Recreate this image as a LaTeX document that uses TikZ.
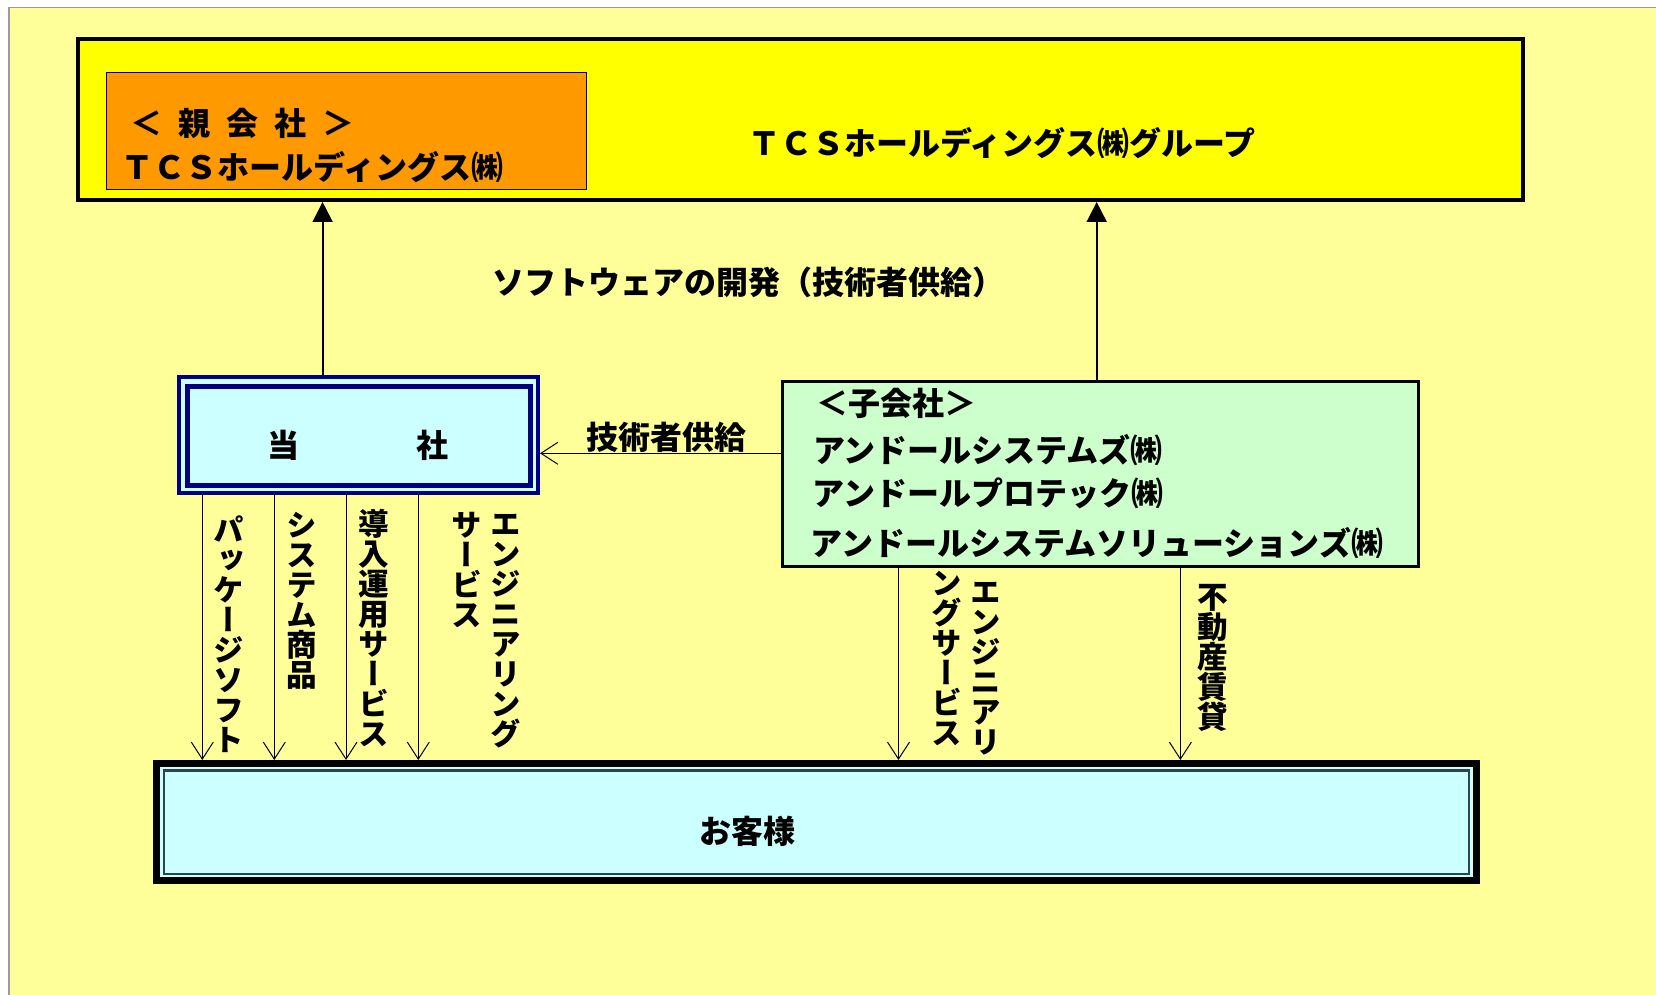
\documentclass[tikz,border=0pt]{standalone}
\usepackage{fontspec}
\setmainfont{Noto Sans CJK JP}
\newfontfamily\vjp{Noto Sans CJK JP}[RawFeature=+vert]
\usetikzlibrary{arrows.meta}
\definecolor{bgyel}{HTML}{FFFF99}
\definecolor{grpyel}{HTML}{FFFF00}
\definecolor{orng}{HTML}{FF9900}
\definecolor{lcyan}{HTML}{CCFFFF}
\definecolor{lgreen}{HTML}{CCFFCC}
\definecolor{navyblue}{HTML}{000080}
\definecolor{slateline}{HTML}{2F4444}
\definecolor{frameline}{HTML}{9A9A9A}
\newcommand\vertsetup{\vjp\bfseries\fontsize{15.3}{15}\selectfont\lineskiplimit=-20pt\relax}
\tikzset{
  box/.style={draw, inner sep=0pt},
  txt/.style={inner sep=0pt, font=\bfseries\fontsize{16}{18}\selectfont},
  vtxt/.style={inner sep=0pt, anchor=north, align=center, font=\vertsetup},
  uparrow/.style={line width=0.9pt, -{Triangle[length=10pt,width=10pt]}},
  downarrow/.style={line width=0.5pt, -{Straight Barb[length=8.5pt,width=11pt]}}
}
\begin{document}
\begin{tikzpicture}[x=0.5pt,y=-0.5pt]
\useasboundingbox (0,0) rectangle (1656,995);
\fill[white] (0,0) rectangle (1656,995);
\fill[bgyel] (9,7.5) rectangle (1656,995);
\draw[frameline, line width=0.6pt] (9,995) -- (9,7.5) -- (1656,7.5);

% group box
\node[box, line width=2pt, fill=grpyel, minimum width=722.25pt, minimum height=80.5pt] (group) at (800.25,119.5) {};
\node[box, line width=0.5pt, fill=orng, minimum width=240pt, minimum height=58.3pt] (parent) at (346,131) {};
\node[txt] (parentl1) at (242.25,123) {＜\hspace{0.5em}親\hspace{0.5em}会\hspace{0.5em}社\hspace{0.5em}＞};
\node[txt] (parentl2) at (312.5,167) {ＴＣＳホールディングス㈱};
\node[txt] (groupl) at (1002,142.6) {ＴＣＳホールディングス㈱グループ};

% our company
\node[box, draw=navyblue, line width=2pt, fill=lcyan, minimum width=179.65pt, minimum height=58pt] (tousha) at (358.35,435) {};
\node[box, draw=navyblue, line width=2.5pt, minimum width=171.25pt, minimum height=49.25pt] (toushain) at (358.75,435.75) {};
\node[txt] (toushal) at (358,445) {当\hspace{3.67em}社};

% subsidiaries
\node[box, line width=1.75pt, fill=lgreen, minimum width=318.1pt, minimum height=92.5pt] (sub) at (1100.6,474.2) {};
\node[txt] (subl0) at (896.5,403) {＜子会社＞};
\node[txt] (subl1) at (988,450) {アンドールシステムズ㈱};
\node[txt] (subl2) at (988,493.3) {アンドールプロテック㈱};
\node[txt] (subl3) at (1097,543.3) {アンドールシステムソリューションズ㈱};

% customers
\node[box, line width=3.65pt, fill=lcyan, minimum width=660pt, minimum height=58.35pt] (cust) at (816.35,822) {};
\node[box, draw=slateline, line width=1.15pt, minimum width=652.4pt, minimum height=51.65pt] (custin) at (816.4,822.15) {};
\node[txt] (custl) at (747.5,831.7) {お客様};

% labels
\node[txt] (devl) at (748,282) {ソフトウェアの開発（技術者供給）};
\node[txt] (supl) at (666.5,437) {技術者供給};

\node[vtxt] (v1) at (228.3,515) {パ\\ッ\\ケ\\ー\\ジ\\ソ\\フ\\ト};
\node[vtxt] (v2) at (301.7,512) {シ\\ス\\テ\\ム\\商\\品};
\node[vtxt] (v3) at (374,509) {導\\入\\運\\用\\サ\\ー\\ビ\\ス};
\node[vtxt] (v4a) at (505.7,514) {エ\\ン\\ジ\\ニ\\ア\\リ\\ン\\グ};
\node[vtxt] (v4b) at (467,512) {サ\\ー\\ビ\\ス};
\node[vtxt] (v5a) at (985.6,582) {エ\\ン\\ジ\\ニ\\ア\\リ};
\node[vtxt] (v5b) at (947,571) {ン\\グ\\サ\\ー\\ビ\\ス};
\node[vtxt] (v6) at (1212.4,584) {不\\動\\産\\賃\\貸};

% connector positions
\coordinate (xa) at (322.6,0);
\coordinate (xb) at (1096.7,0);
\coordinate (yt) at (0,453.3);
\coordinate (d1) at (202.3,0);
\coordinate (d2) at (274.3,0);
\coordinate (d3) at (346,0);
\coordinate (d4) at (418.3,0);
\coordinate (d5) at (898.5,0);
\coordinate (d6) at (1180.4,0);

\draw[uparrow] (tousha.north -| xa) -- (group.south -| xa);
\draw[uparrow] (sub.north -| xb) -- (group.south -| xb);
\draw[downarrow] (sub.west |- yt) -- (tousha.east |- yt);
\foreach \c in {d1,d2,d3,d4}
  \draw[downarrow] (tousha.south -| \c) -- (cust.north -| \c);
\foreach \c in {d5,d6}
  \draw[downarrow] (sub.south -| \c) -- (cust.north -| \c);
\end{tikzpicture}
\end{document}
